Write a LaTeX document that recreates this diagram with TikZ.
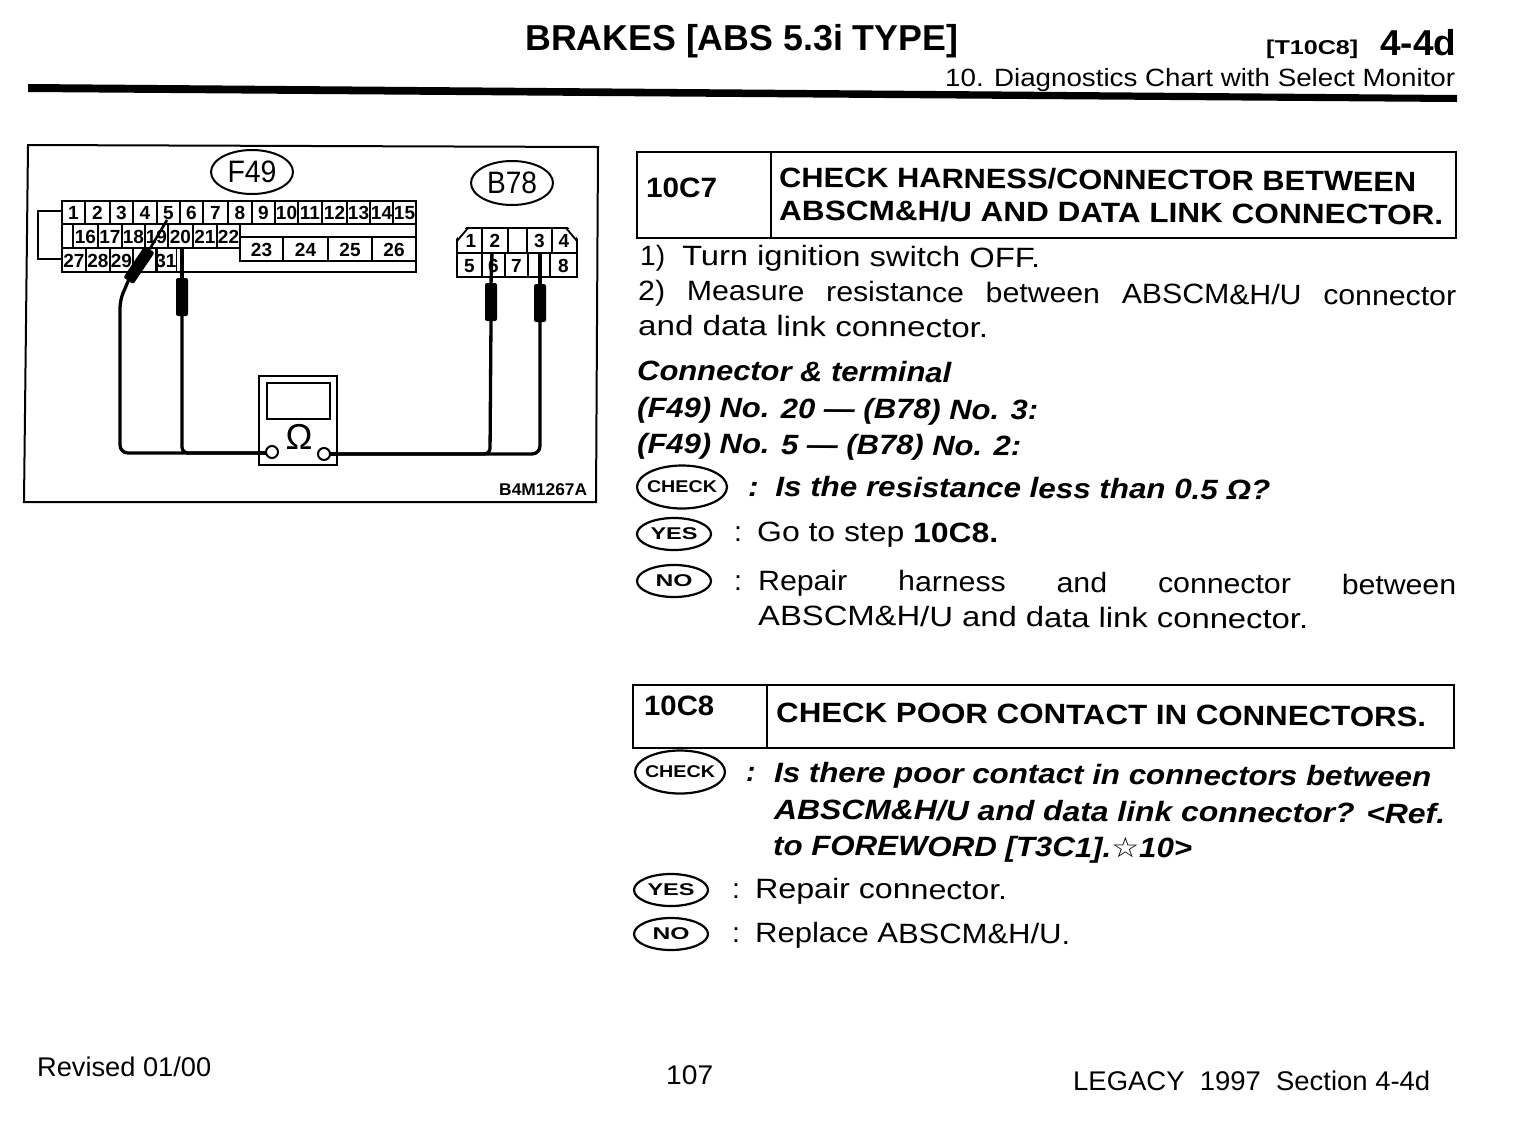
\documentclass[tikz,border=0pt]{standalone}
\usepackage{fontspec}
\usepackage{graphicx}
\usetikzlibrary{shapes.geometric}
\setmainfont{Liberation Sans}
\newfontfamily\starf{DejaVu Sans}
\newcommand\fitw[2]{\resizebox{#1pt}{\height}{#2}}
\newcommand\just[2]{\resizebox{#1pt}{\height}{\makebox[\dimexpr#1pt*100/108\relax][s]{#2}}}
\newcommand\fz[1]{\fontsize{#1}{#1}\selectfont}
\newcommand\gridcell[6]{%
  \pgfmathsetmacro\cw{#3-#2}\pgfmathsetmacro\ch{#5-#4}%
  \pgfmathsetmacro\cx{(#2+#3)/2}\pgfmathsetmacro\cy{(#4+#5)/2}%
  \node[cellbox,minimum width=\cw pt,minimum height=\ch pt] (#1) at (\cx,\cy) {#6};}
\tikzset{
  x=1pt,y=-1pt,
  line/.style={anchor=base west,inner sep=0pt,rotate=-0.4,font=\fz{28}},
  plain/.style={anchor=base west,inner sep=0pt,font=\fz{28}},
  boldline/.style={line,font=\fz{28}\bfseries},
  bi/.style={line,font=\fz{28}\bfseries\itshape},
  cellbox/.style={draw=black,line width=1.6pt,inner sep=0pt,text height=14pt,text depth=0pt,font=\fz{19}\bfseries},
  tag/.style={draw=black,ellipse,line width=2pt,inner sep=-6pt,font=\fz{31}},
  icon/.style={draw=black,ellipse,line width=2.2pt,inner sep=-5pt,font=\fz{17}\bfseries},
  tbl/.style={draw=black,line width=2.4pt},
  wire/.style={draw=black,line width=3.3pt,line join=round,line cap=round},
  tipw/.style={draw=black,line width=2.6pt},
  probe/.style={fill=black,rounded corners=2pt,inner sep=0pt,minimum width=12pt,minimum height=38pt},
  term/.style={circle,draw=black,fill=white,line width=2pt,minimum size=12pt,inner sep=0pt},
}
\begin{document}
\begin{tikzpicture}
\useasboundingbox (0,0) rectangle (1520,1128);
\fill[white] (0,0) rectangle (1520,1128);
% header
\node[plain,font=\fz{36}\bfseries] (title) at (525,50) {\fitw{433}{BRAKES [ABS 5.3i TYPE]}};
\node[plain,font=\fz{20}\bfseries] (tcode) at (1266,54) {\fitw{92}{[T10C8]}};
\node[plain,font=\fz{36}\bfseries] (tsec) at (1380,55) {\fitw{76}{4-4d}};
\node[plain,font=\fz{25}] (tsub) at (945,86) {\fitw{510}{10. Diagnostics Chart with Select Monitor}};
\fill[black] (28,84) -- (1457,95) -- (1457,102) -- (28,92) -- cycle;
% figure frame
\draw[black,line width=2pt] (28,145) -- (598,147) -- (596,502) -- (24,502) -- cycle;
\node[tag,minimum width=82pt,minimum height=44pt] (f49) at (252,172) {\fitw{49}{F49}};
\node[tag,minimum width=82pt,minimum height=44pt] (b78) at (512,183) {\fitw{50}{B78}};
% F49 connector
\draw[black,line width=2pt] (62,211) -- (38,211) -- (38,259) -- (62,259);
\gridcell{c1}{62}{85}{201}{224}{1}\gridcell{c2}{85}{110}{201}{224}{2}\gridcell{c3}{110}{133}{201}{224}{3}
\gridcell{c4}{133}{157}{201}{224}{4}\gridcell{c5}{157}{180}{201}{224}{5}\gridcell{c6}{180}{203}{201}{224}{6}
\gridcell{c7}{203}{228}{201}{224}{7}\gridcell{c8}{228}{252}{201}{224}{8}\gridcell{c9}{252}{275}{201}{224}{9}
\gridcell{c10}{275}{298}{201}{224}{10}\gridcell{c11}{298}{322}{201}{224}{11}\gridcell{c12}{322}{347}{201}{224}{12}
\gridcell{c13}{347}{370}{201}{224}{13}\gridcell{c14}{370}{393}{201}{224}{14}\gridcell{c15}{393}{416}{201}{224}{15}
\gridcell{c16b}{62}{73}{224}{248}{}
\gridcell{c16}{73}{98}{224}{248}{16}\gridcell{c17}{98}{122}{224}{248}{17}\gridcell{c18}{122}{145}{224}{248}{18}
\gridcell{c19}{145}{168}{224}{248}{19}\gridcell{c20}{168}{193}{224}{248}{20}\gridcell{c21}{193}{217}{224}{248}{21}
\gridcell{c22}{217}{240}{224}{248}{22}
\gridcell{c27}{62}{86}{248}{272}{27}\gridcell{c28}{86}{110}{248}{272}{28}\gridcell{c29}{110}{133}{248}{272}{29}
\gridcell{c30}{133}{157}{248}{272}{}\gridcell{c31}{157}{175}{248}{272}{31}
\gridcell{c23}{240}{283}{237}{261}{23}\gridcell{c24}{283}{328}{237}{261}{24}\gridcell{c25}{328}{372}{237}{261}{25}\gridcell{c26}{372}{416}{237}{261}{26}
\draw[black,line width=1.8pt] (175,272) -- (416,272) -- (416,224);
% B78 connector
\gridcell{d1}{457}{482}{228}{253}{}\gridcell{d2}{482}{508}{228}{253}{2}\gridcell{dx}{508}{527}{228}{253}{}
\gridcell{d3}{527}{552}{228}{253}{3}\gridcell{d4}{552}{577}{228}{253}{}
\gridcell{d5}{457}{482}{253}{277}{5}\gridcell{d6}{482}{505}{253}{277}{6}\gridcell{d7}{505}{528}{253}{277}{7}
\gridcell{dy}{528}{550}{253}{277}{}\gridcell{d8}{550}{577}{253}{277}{8}
\fill[white] (455,226) -- (467,226) -- (455,240) -- cycle (579,226) -- (567,226) -- (579,240) -- cycle;
\draw[black,line width=1.8pt] (457,241) -- (468,228) (566,228) -- (577,241);
\node[inner sep=0pt,font=\fz{19}\bfseries] (d1t) at (471,241) {1};
\node[inner sep=0pt,font=\fz{19}\bfseries] (d4t) at (564,241) {4};
% probes
\coordinate (tA) at (167,220);
\coordinate (tB) at (182,248);
\coordinate (tC) at (492,253);
\coordinate (tD) at (540,253);
\node[probe,rotate=-34] (pA) at (139,265) {};
\node[probe] (pB) at (182,297) {};
\node[probe] (pC) at (491,302) {};
\node[probe] (pD) at (540,303) {};
\draw[tipw] (tA) -- (pA.north);
\draw[tipw,line width=3.4pt] (tB) -- (pB.north);
\draw[tipw,line width=3.4pt] (tC) -- (pC.north);
\draw[tipw,line width=3.4pt] (tD) -- (pD.north);
% wires
\coordinate (jA) at (120,300);
\coordinate (bA) at (120,453);
\coordinate (bB) at (182,453);
\coordinate (bC) at (490,454);
\coordinate (bD) at (540,454);
\coordinate (wL) at (272,453);
\coordinate (wR) at (324,454);
\draw[wire,rounded corners=8pt] (pA.south) -- (jA) -- (bA) -- (wL);
\draw[wire,rounded corners=6pt] (pB.south) -- (bB) -- (wL);
\draw[wire,rounded corners=6pt] (pC.south) -- (bC) -- (wR);
\draw[wire,rounded corners=8pt] (pD.south) -- (bD) -- (wR);
% meter
\node[draw=black,fill=white,line width=2pt,minimum width=78pt,minimum height=89pt,inner sep=0pt] (meter) at (298,420.5) {};
\node[draw=black,line width=2.4pt,minimum width=63pt,minimum height=36pt,inner sep=0pt] (screen) at (298.5,401) {};
\node[inner sep=0pt,font=\fz{36}] (ohm) at (299,437) {Ω};
\draw[wire] (260,453) -- (wL);
\draw[wire] (336,454) -- (wR);
\node[term] (mL) at (272,452) {};
\node[term] (mR) at (324,454) {};
\node[plain,font=\fz{17}\bfseries] (figid) at (499,495) {\fitw{88}{B4M1267A}};
% step 10C7
\draw[tbl] (637,152) rectangle (1456,238);
\draw[tbl] (771,152) -- (771,238);
\node[plain,font=\fz{28}\bfseries] (s1) at (646,197) {\fitw{71}{10C7}};
\node[boldline] (s1a) at (779,187) {\fitw{637}{CHECK HARNESS/CONNECTOR BETWEEN}};
\node[boldline] (s1b) at (779,220) {\fitw{664}{ABSCM\&H/U AND DATA LINK CONNECTOR.}};
\node[line] (l1n) at (640,265) {1)};
\node[line] (l1) at (682,265) {\fitw{358}{Turn ignition switch OFF.}};
\node[line] (l2) at (638,300) {\just{818}{2) Measure resistance between ABSCM\&H/U connector}};
\node[line] (l3) at (638,335) {\fitw{350}{and data link connector.}};
\node[bi] (l4) at (637,380) {\fitw{314}{Connector \& terminal}};
\node[bi] (l5) at (637,417) {\fitw{401}{(F49) No. 20 --- (B78) No. 3:}};
\node[bi] (l6) at (637,453) {\fitw{384}{(F49) No. 5 --- (B78) No. 2:}};
\node[icon,minimum width=90pt,minimum height=43pt] (chk1) at (682,487) {\fitw{70}{CHECK}};
\node[bi] (l7) at (748,496) {\fitw{522}{: \,Is the resistance less than 0.5 Ω?}};
\node[icon,minimum width=74pt,minimum height=32pt] (yes1) at (674,534) {\fitw{47}{YES}};
\node[line] (l8a) at (734,541) {:};
\node[line] (l8) at (757,541) {\fitw{241}{Go to step \textbf{10C8.}}};
\node[icon,minimum width=74pt,minimum height=32pt] (no1) at (674,581) {\fitw{37}{NO}};
\node[line] (l9a) at (734,590) {:};
\node[line] (l9) at (758,590) {\just{698}{Repair harness and connector between}};
\node[line] (l10) at (758,625) {\fitw{550}{ABSCM\&H/U and data link connector.}};
% step 10C8
\draw[tbl] (633,685) rectangle (1454,748);
\draw[tbl] (767,685) -- (767,748);
\node[plain,font=\fz{28}\bfseries] (s2) at (644,715) {\fitw{70}{10C8}};
\node[boldline] (s2a) at (776,722) {\fitw{650}{CHECK POOR CONTACT IN CONNECTORS.}};
\node[icon,minimum width=90pt,minimum height=43pt] (chk2) at (680,772) {\fitw{70}{CHECK}};
\node[bi] (m0) at (746,781) {:};
\node[bi] (m1) at (774,782) {\fitw{657}{Is there poor contact in connectors between}};
\node[bi] (m2) at (774,819) {\fitw{671}{ABSCM\&H/U and data link connector? \textless Ref.}};
\node[bi] (m3) at (773,855) {\fitw{419}{to FOREWORD [T3C1].{\starf\mdseries\upshape ☆}10\textgreater}};
\node[icon,minimum width=74pt,minimum height=32pt] (yes2) at (671,890) {\fitw{47}{YES}};
\node[line] (m4a) at (732,898) {:};
\node[line] (m4) at (755,898) {\fitw{252}{Repair connector.}};
\node[icon,minimum width=74pt,minimum height=32pt] (no2) at (671,934) {\fitw{37}{NO}};
\node[line] (m5a) at (732,942) {:};
\node[line] (m5) at (755,942) {\fitw{315}{Replace ABSCM\&H/U.}};
% footer
\node[plain,font=\fz{27}] (f1) at (37,1076) {\fitw{174}{Revised 01/00}};
\node[plain,font=\fz{27}] (f2) at (666,1084) {\fitw{47}{107}};
\node[plain,font=\fz{27}] (f3) at (1073,1090) {\fitw{357}{LEGACY\ \ 1997\ \ Section 4-4d}};
\end{tikzpicture}
\end{document}
